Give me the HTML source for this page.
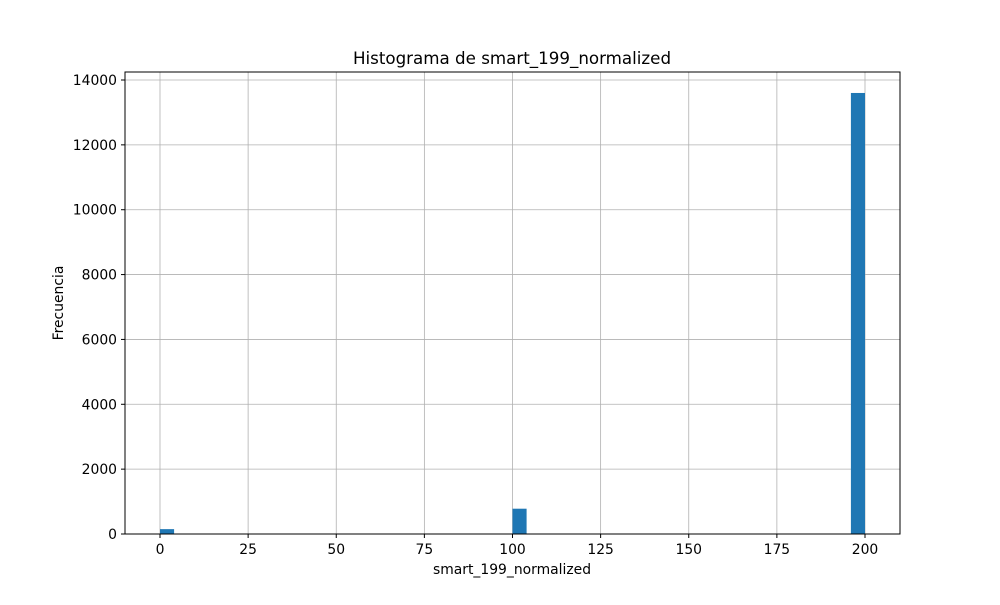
<!DOCTYPE html>
<html><head><meta charset="utf-8"><style>
body{margin:0;background:#fff;}
svg text{font-family:"DejaVu Sans","Liberation Sans",sans-serif;}
</style></head><body>
<svg id="chart" width="1000" height="600" xmlns="http://www.w3.org/2000/svg">
<rect width="1000" height="600" fill="#fff"/>
<g id="grid"></g>
<g id="bars"></g>
<rect x="125" y="72" width="775" height="462" fill="none" stroke="#000" stroke-width="1"/>
<g id="ticks"></g>
<text x="512" y="64" font-size="16.7" text-anchor="middle">Histograma de smart_199_normalized</text>
<text x="512" y="574" font-size="13.9" text-anchor="middle">smart_199_normalized</text>
<text x="63" y="303" font-size="13.9" text-anchor="middle" transform="rotate(-90 63 303)">Frecuencia</text>
</svg>
<script>
const binStarts=[0,100,196];
const binCounts=[150,780,13600];
const binWidth=4;
const xTicks=[0,25,50,75,100,125,150,175,200];
const yTicks=[0,2000,4000,6000,8000,10000,12000,14000];
const NS="http://www.w3.org/2000/svg";
const xs=v=>160+v*(705/200);
const ys=v=>534-v*(454/14000);
function mk(tag,attrs,parent){const e=document.createElementNS(NS,tag);for(const k in attrs)e.setAttribute(k,attrs[k]);parent.appendChild(e);return e;}
const grid=document.getElementById('grid'),bars=document.getElementById('bars'),ticks=document.getElementById('ticks');
xTicks.forEach(t=>{const x=xs(t);
 const g=mk('line',{x1:x,x2:x,y1:72,y2:534,stroke:'#b0b0b0','stroke-width':0.8},grid);
 
 
 mk('line',{x1:x,x2:x,y1:534,y2:538,stroke:'#000'},ticks);
 const l=mk('text',{x:x,y:554,'font-size':13.9,'text-anchor':'middle'},ticks);l.textContent=t;
 
 
});
yTicks.forEach(t=>{const y=ys(t);
 const g=mk('line',{x1:125,x2:900,y1:y,y2:y,stroke:'#b0b0b0','stroke-width':0.8},grid);
 
 
 mk('line',{x1:121,x2:125,y1:y,y2:y,stroke:'#000'},ticks);
 const l=mk('text',{x:117,y:y+5,'font-size':13.9,'text-anchor':'end'},ticks);l.textContent=t;
 
 
});
binStarts.forEach((s,i)=>{const x0=xs(s),x1=xs(s+binWidth),y=ys(binCounts[i]);
 const r=mk('rect',{x:x0,y:y,width:x1-x0,height:534-y,fill:'#1f77b4'},bars);
 
 
});
</script>
</body></html>
